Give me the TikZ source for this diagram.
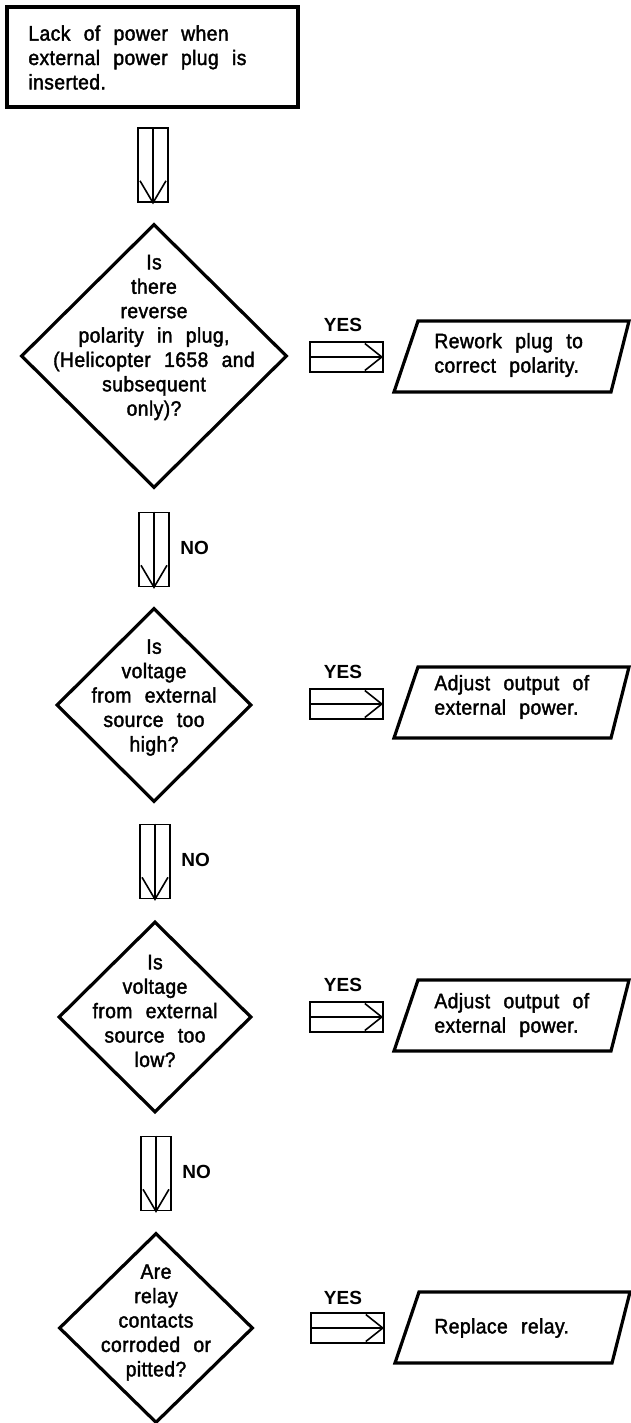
\documentclass[tikz,border=0pt]{standalone}
\usepackage{fontspec}
\setmainfont{Liberation Sans}[LetterSpace=2,WordSpace=2.3,FakeBold=1.8,FakeStretch=0.92]
\newfontfamily\lblfont{Liberation Sans}
\usetikzlibrary{shapes.geometric,calc}

\tikzset{
  outline/.style={line width=1.6pt, line join=miter},
  thinline/.style={line width=0.8pt},
  startbox/.style={draw, outline, minimum width=145.5pt, minimum height=50pt, inner sep=0pt},
  decision/.style={draw, outline, shape=diamond, inner sep=0pt},
  txt/.style={inner sep=0pt, align=center, font=\fontsize{10.5pt}{12.2pt}\selectfont},
  flowdown/.style={draw, thinline, minimum width=15pt, minimum height=37pt, inner sep=0pt},
  flowright/.style={draw, thinline, minimum width=36.5pt, minimum height=15pt, inner sep=0pt},
  lbl/.style={inner sep=0pt, font=\lblfont\bfseries\fontsize{9.5pt}{11pt}\selectfont},
  pics/iobox/.style={code={\draw[outline] (-117,35.5) -- (100,35.5) -- (118,-35.5) -- (-93,-35.5) -- cycle;}},
}

% hollow block arrow pointing down: shaft and open head inside the box
\newcommand\downshaft[1]{%
  \draw[thinline] (#1.north) -- (#1.south);
  \draw[thinline] ($(#1.south)+(-13,-22)$) -- (#1.south) -- ($(#1.south)+(13,-22)$);}
% hollow block arrow pointing right
\newcommand\rightshaft[1]{%
  \draw[thinline] (#1.west) -- (#1.east);
  \draw[thinline] ($(#1.east)+(-19,-13.5)$) -- ($(#1.east)+(-2,0)$) -- ($(#1.east)+(-19,13.5)$);}

\begin{document}
\begin{tikzpicture}[x=0.5pt,y=-0.5pt]
\useasboundingbox (0,0) rectangle (631,1423);

% problem statement
\node[startbox] (start) at (152.5,57) {};
\node[txt, align=left, anchor=west] (starttxt) at (28,57.5)
  {Lack of power when\\external power plug is\\inserted.};

% step 1
\node[flowdown] (a1) at (153,165) {};
\downshaft{a1}
\node[decision, minimum width=133pt, minimum height=132pt] (q1) at (154,356) {};
\node[txt] (q1t) at (154,337.5)
  {Is\\there\\reverse\\polarity in plug,\\(Helicopter 1658 and\\subsequent\\only)?};
\node[flowright] (y1) at (346.5,357) {};
\rightshaft{y1}
\node[lbl] (yes1) at (343,325) {YES};
\pic (p1) at (511,356.5) {iobox};
\node[txt, align=left, anchor=west] (p1t) at (434,355) {Rework plug to\\correct polarity.};

% step 2
\node[flowdown] (a2) at (154,549.5) {};
\downshaft{a2}
\node[lbl, anchor=west] (no1) at (180,548) {NO};
\node[decision, minimum width=97.5pt, minimum height=97pt] (q2) at (154,705) {};
\node[txt] (q2t) at (154,697.5)
  {Is\\voltage\\from external\\source too\\high?};
\node[flowright] (y2) at (346.5,704) {};
\rightshaft{y2}
\node[lbl] (yes2) at (343,672) {YES};
\pic (p2) at (511,702.5) {iobox};
\node[txt, align=left, anchor=west] (p2t) at (434,697) {Adjust output of\\external power.};

% step 3
\node[flowdown] (a3) at (155,861.5) {};
\downshaft{a3}
\node[lbl, anchor=west] (no2) at (181,860) {NO};
\node[decision, minimum width=96.5pt, minimum height=95.5pt] (q3) at (155,1017) {};
\node[txt] (q3t) at (155,1011)
  {Is\\voltage\\from external\\source too\\low?};
\node[flowright] (y3) at (346.5,1017) {};
\rightshaft{y3}
\node[lbl] (yes3) at (343,985) {YES};
\pic (p3) at (511,1015.5) {iobox};
\node[txt, align=left, anchor=west] (p3t) at (434,1015) {Adjust output of\\external power.};

% step 4
\node[flowdown] (a4) at (156,1173.5) {};
\downshaft{a4}
\node[lbl, anchor=west] (no3) at (182,1172) {NO};
\node[decision, minimum width=97pt, minimum height=95pt] (q4) at (156,1328) {};
\node[txt] (q4t) at (156,1322.5)
  {Are\\relay\\contacts\\corroded or\\pitted?};
\node[flowright] (y4) at (347.5,1328) {};
\rightshaft{y4}
\node[lbl] (yes4) at (343,1298) {YES};
\pic (p4) at (512,1327.5) {iobox};
\node[txt, align=left, anchor=west] (p4t) at (434,1328) {Replace relay.};
\end{tikzpicture}
\end{document}
